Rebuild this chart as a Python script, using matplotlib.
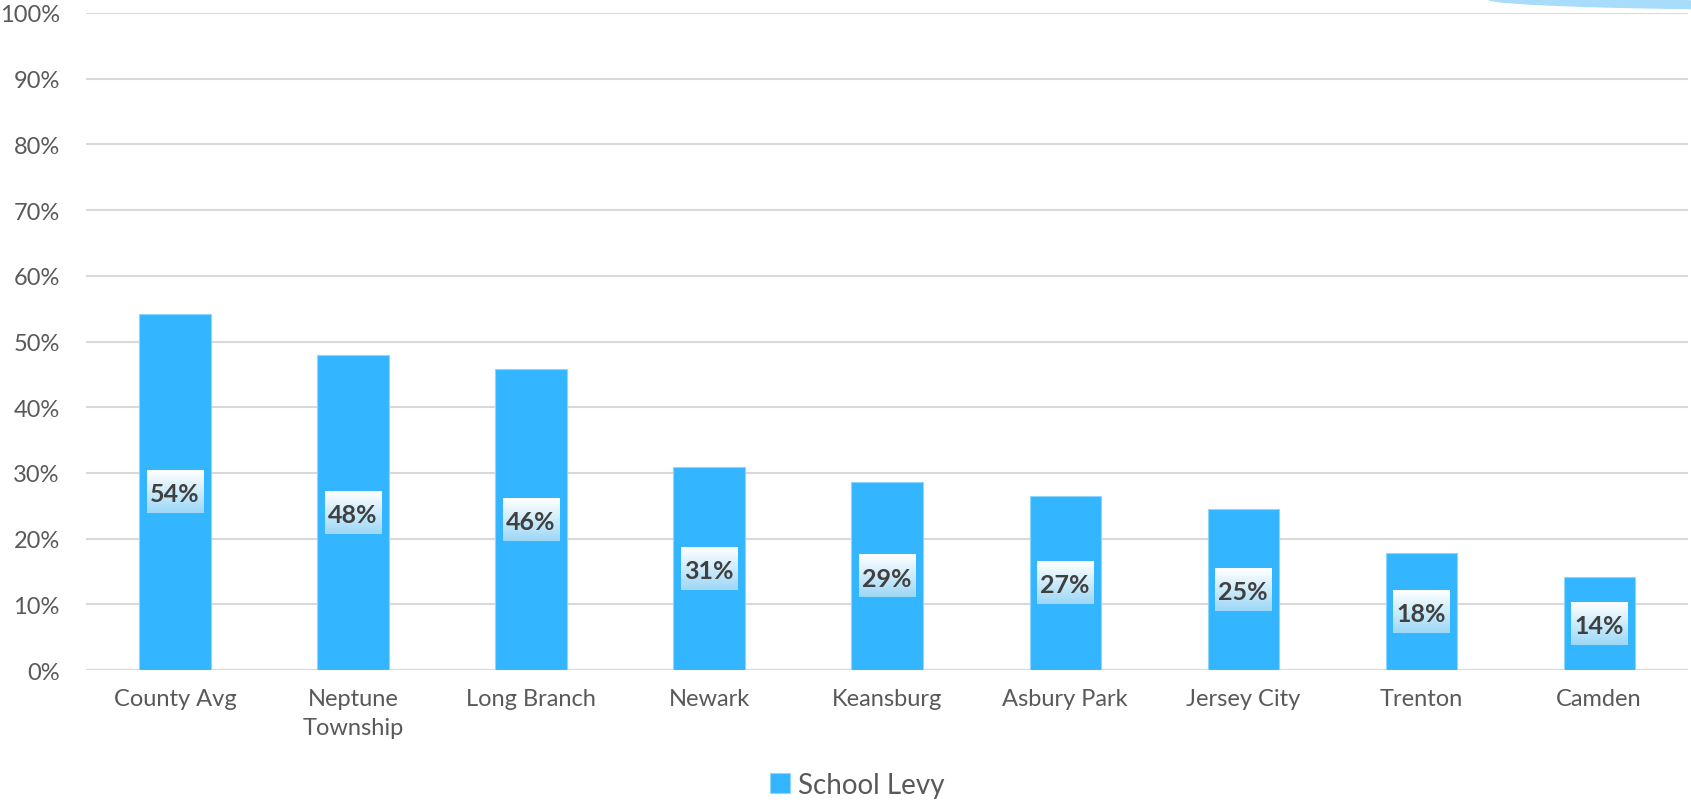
import numpy as np
import matplotlib.pyplot as plt
from matplotlib.patches import Ellipse
from matplotlib.colors import LinearSegmentedColormap

plt.rcParams['font.family'] = ['Lato', 'DejaVu Sans']

# data
categories = ['County Avg', 'Neptune\nTownship', 'Long Branch', 'Newark', 'Keansburg',
              'Asbury Park', 'Jersey City', 'Trenton', 'Camden']
school_levy = [54.2, 47.9, 45.8, 30.9, 28.6, 26.5, 24.5, 17.8, 14.2]
value_labels = ['54%', '48%', '46%', '31%', '29%', '27%', '25%', '18%', '14%']

bar_color = '#33b5ff'
text_color = '#595959'

fig = plt.figure(figsize=(16.91, 8.04), dpi=100)
ax = fig.add_axes([0.0509, 0.1654, 0.9474, 0.8172])

x = np.arange(len(categories))
ax.bar(x, school_levy, width=0.4, color=bar_color, edgecolor='#8fd6ff', linewidth=0.8,
       label='School Levy', zorder=2)

# gradient boxes behind the value labels
grad = np.linspace(0, 1, 64).reshape(-1, 1)
cmap = LinearSegmentedColormap.from_list('lbl', ['#ffffff', '#9dd8f7'])
for xi, v, lab in zip(x, school_levy, value_labels):
    yc = v / 2
    ax.imshow(grad, cmap=cmap, aspect='auto', zorder=3,
              extent=(xi - 0.16, xi + 0.16, yc - 3.25, yc + 3.25))
    ax.text(xi, yc - 0.3, lab, ha='center', va='center', fontsize=18, fontweight='bold',
            color='#404040', zorder=4)

ax.set_xlim(-0.5, len(categories) - 0.5)
ax.set_ylim(0, 100)
ax.set_yticks(np.arange(0, 101, 10))
ax.set_yticklabels([f'{t}%' for t in range(0, 101, 10)])
ax.set_xticks(x)
ax.set_xticklabels(categories)
ax.tick_params(axis='both', length=0, labelsize=17, colors=text_color)
ax.tick_params(axis='x', pad=13)
ax.tick_params(axis='y', pad=19)
ax.grid(axis='y', color='#d9d9d9', linewidth=1.5, zorder=0)
ax.set_axisbelow(True)
for s in ax.spines.values():
    s.set_visible(False)
ax.axhline(0, color='#d9d9d9', linewidth=1.5, zorder=1)

for lbl in ax.get_xticklabels():
    lbl.set_linespacing(1.45)

leg = fig.legend(loc='center', bbox_to_anchor=(0.507, 0.023), frameon=False, fontsize=20,
                 handlelength=0.7, handleheight=0.7, handletextpad=0.3)
for t in leg.get_texts():
    t.set_color(text_color)

# decorative arc top right
arc = Ellipse((1.080, 1.0), 0.40, 0.026, transform=fig.transFigure, color='#a8dcfb', zorder=0)
fig.patches.append(arc)
arc2 = Ellipse((1.153, 1.013), 0.449, 0.0373, transform=fig.transFigure, color='white', zorder=0)
fig.patches.append(arc2)

fig.savefig('out.png', dpi=100)
